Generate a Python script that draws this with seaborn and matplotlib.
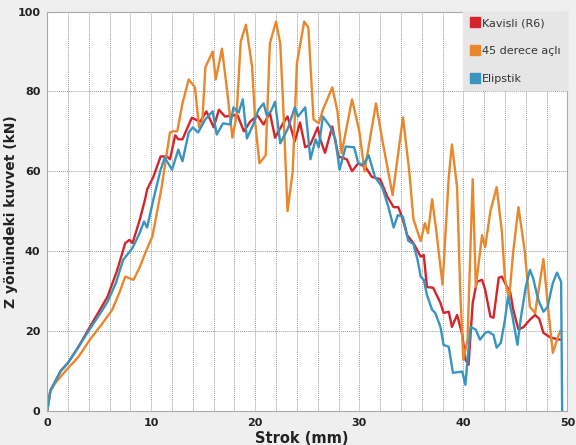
import numpy as np
import pandas as pd
import matplotlib
matplotlib.use("Agg")
import matplotlib.pyplot as plt
import seaborn as sns

# Kavisli (R6)
kavisli_x = [0, 0.3, 1.3, 2, 3, 4.1, 5, 5.8, 6.7, 7.5, 7.9, 8.2, 8.9, 9.4, 9.6, 10.2, 10.9,
             11.5, 11.8, 12.3, 12.6, 13.0, 13.9, 14.7, 15.3, 16.0, 16.5, 17.1, 17.9, 18.3,
             18.9, 19.5, 20.2, 20.8, 21.4, 21.9, 22.6, 23.1, 23.8, 24.3, 24.8, 25.3, 26.0,
             26.25, 26.7, 27.4, 28.0, 28.8, 29.3, 29.9, 30.6, 31.2, 32.0, 32.7, 33.3, 33.75,
             34.1, 34.6, 35.2, 35.9, 36.2, 36.5, 37.1, 37.8, 38.1, 38.6, 38.9, 39.4, 39.9,
             40.2, 40.5, 40.9, 41.3, 41.8, 42.1, 42.6, 42.9, 43.4, 43.7, 44.2, 44.5, 44.8,
             45.3, 45.8, 46.4, 46.9, 47.3, 47.7, 48.4, 49.3]
kavisli_y = [0, 5, 10, 12, 16, 21, 25, 28.6, 35, 42, 42.8, 42, 47.9, 52.9, 55.4, 58.6, 63.7,
             63.7, 63, 69, 68, 68, 73.4, 72.4, 75, 71, 75.4, 73.7, 74, 74,
             70, 72.4, 74, 71.7, 74.7, 68.4, 71.7, 73.7, 67.5, 72.2, 66, 66.7, 71,
             68, 64.6, 71.2, 63.7, 63, 60, 62, 61, 58.6, 58, 53.6, 51, 51,
             48.6, 44, 42, 38.6, 39, 31, 30.8, 27, 24.5, 24.8, 21, 24, 19,
             12.8, 11.5, 27, 32.3, 32.8, 30.3, 23.6, 23.3, 33.3, 33.6, 31, 29.8, 25.3,
             20.3, 21, 22.8, 24, 23, 19.5, 18.3, 17.8]

# 45 derece açılı
acili_x = [0, 0.3, 0.8, 1.7, 3.0, 4.1, 5.2, 6.25, 7.0, 7.5, 8.3, 8.9, 9.5, 10.1, 10.6, 11.0,
           11.4, 11.8, 12.1, 12.5, 13.0, 13.6, 14.2, 14.6, 14.9, 15.2, 15.9, 16.2, 16.8,
           17.3, 17.8, 18.2, 18.6, 19.1, 19.7, 20.0, 20.4, 21.0, 21.4, 22.0, 22.4, 22.7,
           23.1, 23.6, 24.0, 24.7, 25.1, 25.6, 26.1, 26.5, 27.4, 27.9, 28.3, 29.3, 30.0,
           30.5, 31.6, 32.2, 33.2, 34.2, 34.8, 35.2, 35.9, 36.3, 36.6, 37.0, 37.4, 38.0,
           38.6, 38.9, 39.4, 39.7, 40.0, 40.4, 40.9, 41.2, 41.8, 42.1, 42.6, 43.2, 43.7,
           44.0, 44.4, 44.8, 45.3, 45.9, 46.4, 46.9, 47.7, 48.1, 48.6, 49.3]
acili_y = [0, 5, 7, 9.8, 13.5, 17.8, 21.5, 25.3, 30, 33.6, 32.8, 36, 40, 43.6, 50.4, 56,
           63, 69.7, 70, 70, 77, 83, 81, 71, 72, 86, 90, 83, 90.7,
           80, 68.4, 74, 92.5, 96.7, 86, 72, 62, 64, 92, 97.5, 92, 75.4,
           50, 60, 87, 97.5, 96, 73, 72, 75.4, 81, 75, 64.5, 78, 70,
           60, 77, 68, 54, 73.5, 60, 48, 42.5, 47, 44.5, 53, 45, 31.6,
           58.6, 66.7, 56, 30, 12.8, 17.8, 58, 31, 44, 41, 50, 56, 45,
           33, 28, 40, 51, 40, 26, 24.5, 38, 27, 14.5, 20]

# Elipstik
elipstik_x = [0, 0.3, 1.3, 2, 3, 4.1, 5, 5.8, 6.6, 7.3, 8.2, 8.9, 9.3, 9.6, 10.2, 10.9, 11.3,
              12.0, 12.6, 13.0, 13.6, 14.0, 14.5, 15.2, 15.9, 16.3, 16.9, 17.6, 17.9, 18.4,
              18.8, 19.2, 19.8, 20.3, 20.8, 21.1, 21.5, 21.9, 22.4, 23.1, 23.8, 24.1, 24.8,
              25.3, 25.8, 26.1, 26.5, 27.2, 27.7, 28.1, 28.7, 29.5, 29.9, 30.4, 30.9, 31.5,
              32.2, 32.8, 33.3, 33.7, 34.2, 34.7, 35.2, 35.6, 35.9, 36.2, 36.5, 37.0, 37.3,
              37.8, 38.1, 38.6, 39.0, 39.9, 40.2, 40.4, 40.7, 41.2, 41.6, 42.1, 42.4, 42.9,
              43.2, 43.6, 44.0, 44.3, 44.7, 45.2, 45.5, 46.0, 46.4, 46.7, 47.2, 47.7, 48.1,
              48.6, 49.0, 49.4, 49.5]
elipstik_y = [0, 5, 10, 12, 16, 20.5, 24, 27.3, 32, 37.8, 40.8, 44.6, 47.4, 45.9, 52.9, 60.4, 63.4,
              60.4, 65.4, 62.5, 69.7, 71, 69.7, 73, 75, 69.2, 72, 71.7, 76, 74.7,
              78, 68.2, 71.7, 75.4, 77, 74, 75, 77.4, 67, 70.5, 76, 73.7, 76,
              63, 68, 66, 73.7, 71.2, 68, 60.4, 66.2, 66, 62, 61.7, 64, 58.6,
              56, 51, 45.9, 49, 48.6, 42.6, 41.8, 37.8, 33.6, 32.8, 29, 25.3, 24.5,
              21, 16.5, 16, 9.5, 9.8, 6.5, 12.8, 21, 20.3, 17.8, 19.5, 19.8, 19,
              15.8, 17, 22.8, 28.6, 24, 16.5, 22.8, 31, 35.3, 33.3, 27.8, 24.8, 26,
              32, 34.6, 32.3, 0]

series_names = ["Kavisli (R6)", "45 derece açlı", "Elipstik"]
series_colors = ["#d8232a", "#e8872c", "#3895bf"]

frames = []
for name, xs, ys in zip(series_names,
                        [kavisli_x, acili_x, elipstik_x],
                        [kavisli_y, acili_y, elipstik_y]):
    frames.append(pd.DataFrame({"x": xs, "y": ys, "seri": name}))
df = pd.concat(frames, ignore_index=True)

sns.set_style("white")
plt.rcParams['font.family'] = ['DejaVu Sans']

fig = plt.figure(figsize=(5.76, 4.45), dpi=100, facecolor="#efefef")
ax = fig.add_axes([0.082, 0.077, 0.903, 0.897])
ax.set_facecolor("white")

# izgara çizgileri
for gx in np.arange(2, 50, 2):
    ax.axvline(gx, color="#9a9a9a", linestyle=(0, (1, 1)), linewidth=0.7, zorder=0)
for gy in [20, 40, 60, 80]:
    ax.axhline(gy, color="#9a9a9a", linestyle=(0, (1, 1)), linewidth=0.7, zorder=0)

sns.lineplot(data=df, x="x", y="y", hue="seri", hue_order=series_names,
             palette=series_colors, sort=False, estimator=None, units="seri",
             linewidth=1.7, ax=ax, legend=False)

ax.set_xlim(0, 50)
ax.set_ylim(0, 100)
ax.set_xticks([0, 10, 20, 30, 40, 50])
ax.set_yticks([0, 20, 40, 60, 80, 100])
ax.set_xticks(np.arange(0, 51, 2), minor=True)
ax.set_yticks(np.arange(0, 101, 5), minor=True)
ax.tick_params(axis="both", which="both", direction="out", color="#777777",
               labelsize=8, length=3, width=0.8, pad=2)
for lbl in ax.get_xticklabels() + ax.get_yticklabels():
    lbl.set_fontweight("bold")
    lbl.set_color("#222222")

ax.set_xlabel("Strok (mm)", fontsize=10.5, fontweight="bold", color="#222222")
ax.set_ylabel("Z yönündeki kuvvet (kN)", fontsize=10, fontweight="bold", color="#222222")
ax.xaxis.set_label_coords(0.49, -0.05)
ax.yaxis.set_label_coords(-0.056, 0.5)

for s in ax.spines.values():
    s.set_color("#aaaaaa")
    s.set_linewidth(0.8)

handles = [plt.Line2D([], [], marker="s", linestyle="none", markersize=6.5,
                      color=c) for c in series_colors]
leg = ax.legend(handles, series_names, loc="upper right", frameon=True, fontsize=8,
                labelspacing=1.6, handletextpad=0.1, borderpad=0.6,
                handlelength=1.0, borderaxespad=0.0, fancybox=False)
leg.get_frame().set_facecolor("#e6e6e6")
leg.get_frame().set_edgecolor("#e6e6e6")
leg.get_frame().set_alpha(1)
for t in leg.get_texts():
    t.set_color("#333333")

fig.savefig("out.png", dpi=100, facecolor=fig.get_facecolor())
